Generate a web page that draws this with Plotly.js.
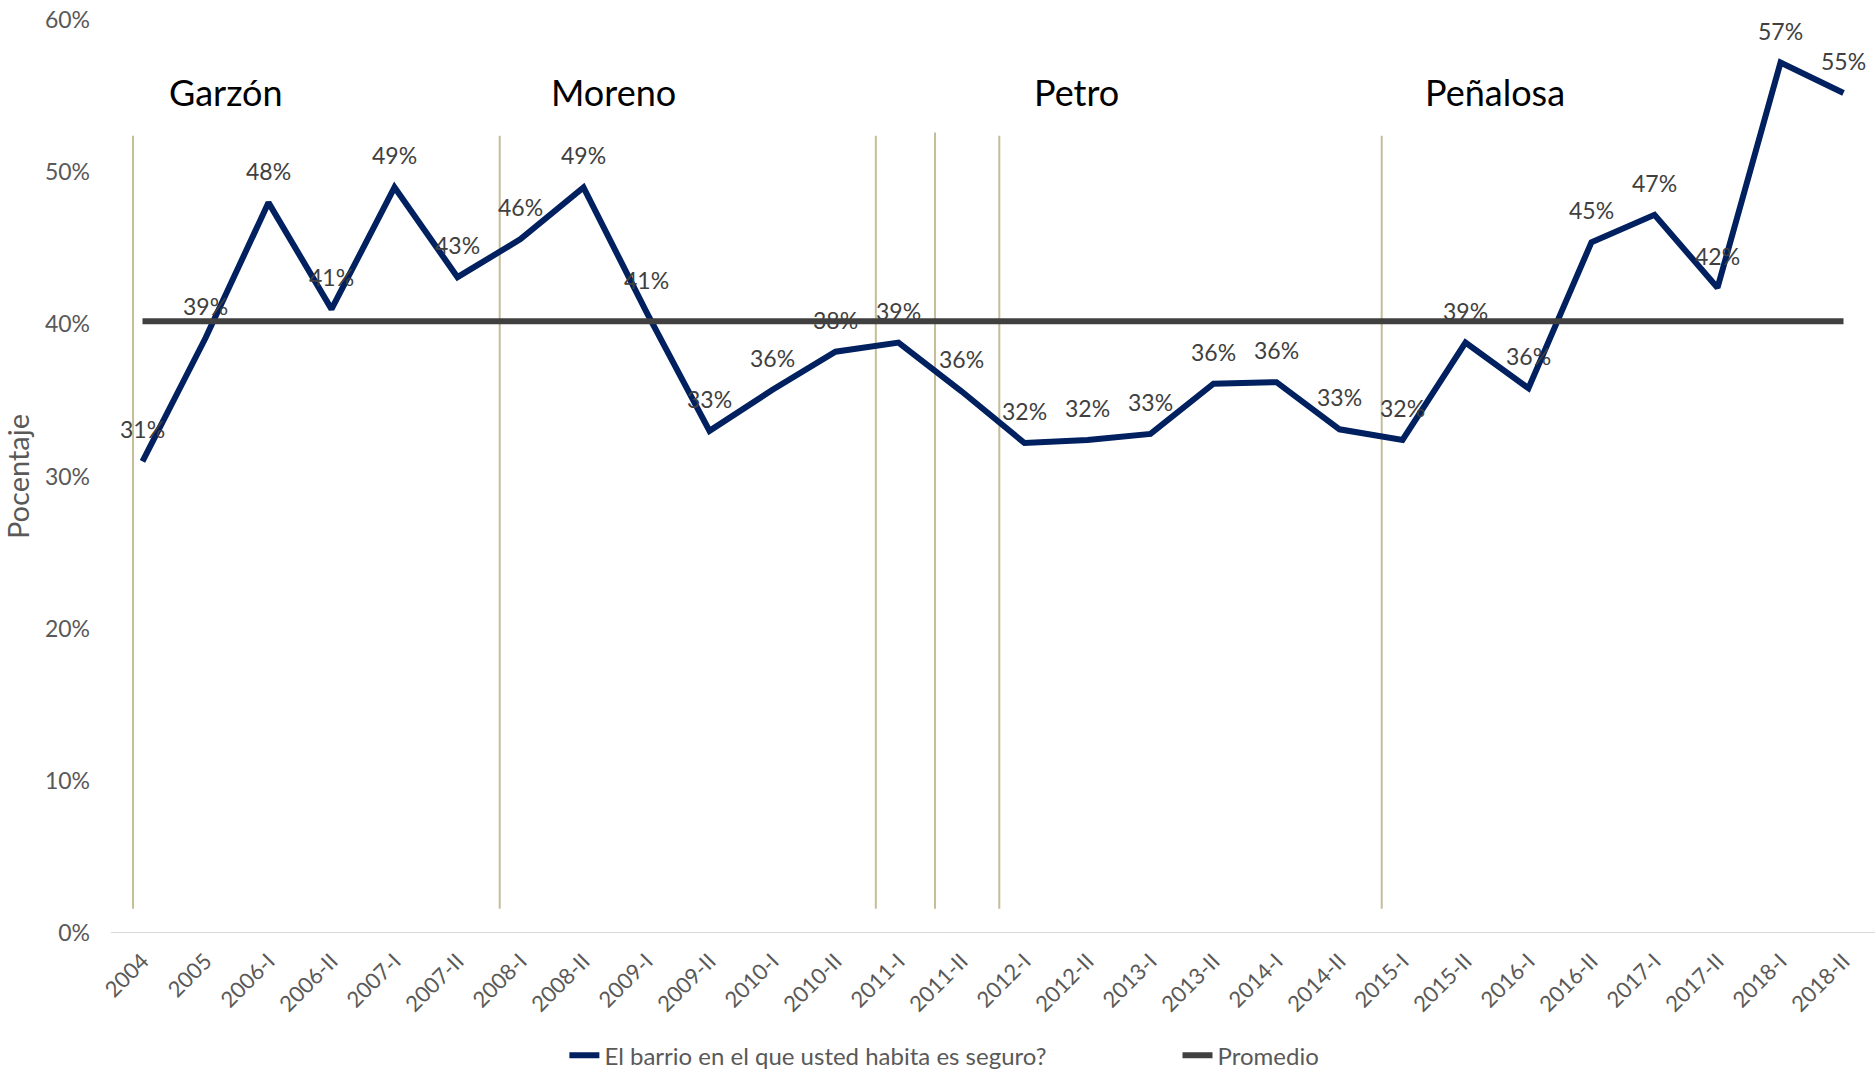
<!DOCTYPE html>
<html>
<head>
<meta charset="utf-8">
<script src="https://cdn.plot.ly/plotly-3.0.1.min.js"></script>
<style>html,body{margin:0;padding:0;background:#fff;}#chart{width:1875px;height:1074px;}</style>
</head>
<body>
<div id="chart"></div>
<script>
// ---- data ----
const categories = ["2004","2005","2006-I","2006-II","2007-I","2007-II","2008-I","2008-II","2009-I","2009-II","2010-I","2010-II","2011-I","2011-II","2012-I","2012-II","2013-I","2013-II","2014-I","2014-II","2015-I","2015-II","2016-I","2016-II","2017-I","2017-II","2018-I","2018-II"];
const seguro = [0.310,0.391,0.480,0.410,0.490,0.431,0.456,0.490,0.408,0.330,0.357,0.382,0.388,0.356,0.322,0.324,0.328,0.361,0.362,0.331,0.324,0.388,0.358,0.454,0.472,0.424,0.572,0.552];
const promedioValue = 0.402;
const seriesNames = ["El barrio en el que usted habita es seguro?","Promedio"];
const alcaldes = ["Garzón","Moreno","Petro","Peñalosa"];
const alcaldesX = [1.33,7.48,14.83,21.47];
const alcaldesY = 0.553;
const cortes = [-0.15,5.67,11.64,12.58,13.6,19.67];
const cortesTop = [0.524,0.524,0.524,0.526,0.524,0.524];
const cortesBottom = 0.016;
const yTicks = [0,0.1,0.2,0.3,0.4,0.5,0.6];
const yTitle = "Pocentaje";

// ---- styling ----
const FONT = "Lato, 'Noto Sans', sans-serif";
const promedio = categories.map(() => promedioValue);

const traces = [
  {x: categories, y: seguro, type: "scatter", mode: "lines", name: seriesNames[0],
   line: {color: "#002060", width: 6}, hoverinfo: "skip", legend: "legend"},
  {x: categories, y: promedio, type: "scatter", mode: "lines", name: seriesNames[1],
   line: {color: "#404040", width: 6}, hoverinfo: "skip", legend: "legend2"}
];

const annotations = [];
seguro.forEach((v, i) => {
  annotations.push({x: i, y: v, xref: "x", yref: "y", text: Math.round(v * 100) + "%",
    showarrow: false, yshift: 32, xanchor: "center", yanchor: "middle",
    font: {family: FONT, size: 23, color: "#404040"}});
});
alcaldes.forEach((n, i) => {
  annotations.push({x: alcaldesX[i], y: alcaldesY, xref: "x", yref: "y", text: n, showarrow: false,
    xanchor: "center", yanchor: "middle", font: {family: FONT, size: 36, color: "#000000"}});
});

const shapes = cortes.map((c, i) => ({type: "line", xref: "x", yref: "y", x0: c, x1: c,
  y0: cortesBottom, y1: cortesTop[i], line: {color: "#c4bd97", width: 2}, layer: "below"}));

const legendFont = {family: FONT, size: 24, color: "#595959"};
const layout = {
  width: 1875, height: 1074,
  margin: {l: 111, r: 0, t: 20, b: 141},
  paper_bgcolor: "#ffffff", plot_bgcolor: "#ffffff",
  font: {family: FONT, color: "#595959"},
  showlegend: true,
  legend: {orientation: "h", xref: "container", yref: "container", x: 0.301, xanchor: "left",
    y: 0.017, yanchor: "middle", font: legendFont},
  legend2: {orientation: "h", xref: "container", yref: "container", x: 0.628, xanchor: "left",
    y: 0.017, yanchor: "middle", font: legendFont},
  xaxis: {type: "category", range: [-0.5, 27.5], tickangle: -45, showgrid: false, zeroline: false,
    showline: false, ticks: "", tickfont: {family: FONT, size: 22, color: "#595959"}, ticklabelstandoff: 10,
    fixedrange: true},
  yaxis: {range: [0, 0.6], tickvals: yTicks, tickformat: ".0%", showgrid: false, zeroline: false,
    showline: false, ticks: "", tickfont: {family: FONT, size: 23, color: "#595959"}, ticklabelstandoff: 20,
    title: {text: yTitle, font: {family: FONT, size: 29, color: "#595959"}, standoff: 14},
    automargin: false, fixedrange: true},
  shapes: shapes.concat([{type: "line", xref: "paper", yref: "y", x0: 0, x1: 1, y0: 0, y1: 0,
    line: {color: "#d9d9d9", width: 2}, layer: "below"}]),
  annotations: annotations
};

Plotly.newPlot("chart", traces, layout, {displayModeBar: false, staticPlot: true});
</script>
</body>
</html>
